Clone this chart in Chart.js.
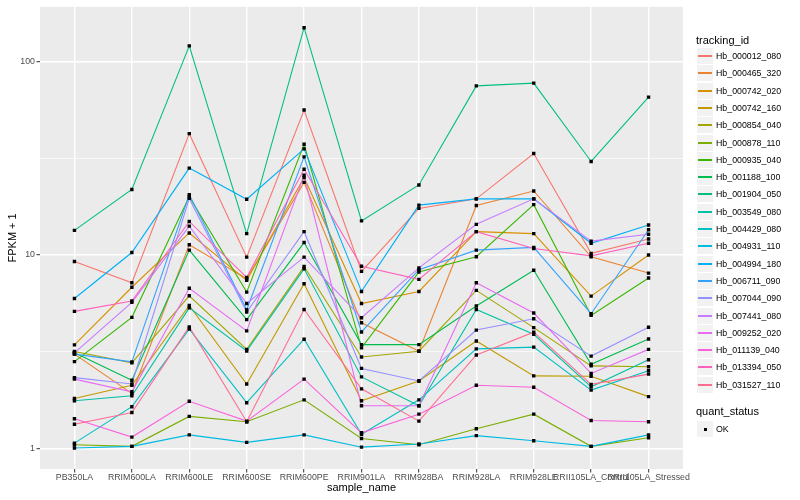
<!DOCTYPE html>
<html>
<head>
<meta charset="utf-8">
<script src="https://cdn.jsdelivr.net/npm/chart.js@4.4.0/dist/chart.umd.min.js"></script>
<style>
  body { margin: 0; background: #fff; }
  #wrap { position: relative; width: 800px; height: 500px; font-family: "Liberation Sans", Arial, sans-serif; }
  #plot { position: absolute; left: 0; top: 0; }
  .lg-title { position: absolute; left: 696px; font-size: 11px; line-height: 13px; color: #000; }
  .lg-row { position: absolute; left: 697px; height: 17px; }
  .lg-key { position: absolute; left: 0; top: 0; width: 16px; height: 16px; background: #F2F2F2; }
  .lg-line { position: absolute; left: 1px; top: 7px; width: 14px; height: 2px; }
  .lg-dot { position: absolute; left: 7px; top: 7px; width: 3px; height: 3px; background: #000; }
  .lg-text { position: absolute; left: 19px; top: 0; font-size: 8.8px; line-height: 17px; color: #000; white-space: nowrap; }
</style>
</head>
<body>
<div id="wrap">
  <canvas id="plot" width="800" height="500"></canvas>
  <div id="legend"></div>
</div>
<script>
// ======= data =======
var categories = ['PB350LA', 'RRIM600LA', 'RRIM600LE', 'RRIM600SE', 'RRIM600PE', 'RRIM901LA',
    'RRIM928BA', 'RRIM928LA', 'RRIM928LE', 'RRII105LA_Control', 'RRII105LA_Stressed'];

var trackingIds = ['Hb_000012_080', 'Hb_000465_320', 'Hb_000742_020', 'Hb_000742_160', 'Hb_000854_040',
    'Hb_000878_110', 'Hb_000935_040', 'Hb_001188_100', 'Hb_001904_050', 'Hb_003549_080',
    'Hb_004429_080', 'Hb_004931_110', 'Hb_004994_180', 'Hb_006711_090', 'Hb_007044_090',
    'Hb_007441_080', 'Hb_009252_020', 'Hb_011139_040', 'Hb_013394_050', 'Hb_031527_110'];

var hb_000012_080 = [9.26, 7.19, 42.3, 9.75, 56, 8.24, 17.4, 19.5, 33.4, 10.2, 12.1];
var hb_000465_320 = [3.08, 1.93, 11.3, 7.54, 23.7, 4.47, 3.19, 18.0, 21.4, 9.8, 8.07];
var hb_000742_020 = [3.44, 6.82, 13.0, 7.4, 25.1, 5.62, 6.49, 13.2, 12.9, 6.14, 10.0];
var hb_000742_160 = [1.82, 2.13, 5.5, 2.16, 7.11, 1.77, 2.24, 3.6, 2.38, 2.37, 1.86];
var hb_000854_040 = [3.18, 2.78, 6.16, 3.26, 8.72, 2.98, 3.19, 6.57, 4.22, 2.68, 2.65];
var hb_000878_110 = [1.05, 1.03, 1.47, 1.38, 1.79, 1.13, 1.05, 1.27, 1.51, 1.03, 1.14];
var hb_000935_040 = [2.82, 4.77, 20.0, 6.44, 37.3, 3.32, 8.17, 9.8, 18.2, 4.88, 7.61];
var hb_001188_100 = [3.13, 2.26, 10.6, 4.64, 11.6, 3.45, 3.45, 5.46, 8.34, 2.73, 3.69];
var hb_001904_050 = [13.4, 21.8, 120, 12.9, 149, 15.0, 23.0, 74.6, 77.1, 30.4, 65.3];
var hb_003549_080 = [1.77, 1.88, 5.34, 3.20, 8.49, 2.35, 1.67, 5.24, 3.9, 2.09, 2.88];
var hb_004429_080 = [1.07, 1.65, 4.15, 1.73, 3.68, 1.19, 1.79, 3.28, 3.35, 2.01, 2.53];
var hb_004931_110 = [1.01, 1.03, 1.18, 1.08, 1.18, 1.02, 1.06, 1.17, 1.10, 1.03, 1.18];
var hb_004994_180 = [5.97, 10.3, 28.1, 19.4, 35.3, 6.49, 18.1, 19.5, 19.5, 11.5, 14.3];
var hb_006711_090 = [3.08, 2.81, 20.5, 5.22, 32.1, 4.01, 8.4, 10.6, 10.96, 4.98, 13.5];
var hb_007044_090 = [2.33, 2.16, 19.6, 5.08, 13.2, 2.60, 2.24, 4.1, 4.69, 3.01, 4.24];
var hb_007441_080 = [3.13, 5.70, 14.1, 5.62, 9.75, 4.75, 8.58, 14.4, 19.5, 11.8, 12.8];
var hb_009252_020 = [2.29, 1.97, 6.74, 4.06, 25.8, 1.67, 1.67, 7.19, 5.02, 2.45, 3.26];
var hb_011139_040 = [1.43, 1.15, 1.76, 1.39, 2.29, 1.21, 1.51, 2.13, 2.08, 1.40, 1.38];
var hb_013394_050 = [5.12, 5.79, 14.9, 7.67, 27.7, 8.76, 7.49, 13.2, 10.8, 9.9, 11.5];
var hb_031527_110 = [1.34, 1.54, 4.26, 1.38, 5.24, 2.04, 1.39, 3.05, 4.0, 2.15, 2.43];

var seriesValues = [hb_000012_080, hb_000465_320, hb_000742_020, hb_000742_160, hb_000854_040,
    hb_000878_110, hb_000935_040, hb_001188_100, hb_001904_050, hb_003549_080,
    hb_004429_080, hb_004931_110, hb_004994_180, hb_006711_090, hb_007044_090,
    hb_007441_080, hb_009252_020, hb_011139_040, hb_013394_050, hb_031527_110];

var yTicks = [1, 10, 100];
var yMinorTicks = [3.1623, 31.623];
var statusLabels = ['OK'];

// ggplot hue palette, 20 levels
var colors = ['#F8766D', '#EA8331', '#D89000', '#C09B00', '#A3A500', '#7CAE00', '#39B600', '#00BB4E',
    '#00BF7D', '#00C1A3', '#00BFC4', '#00BAE0', '#00B0F6', '#35A2FF', '#9590FF', '#C77CFF',
    '#E76BF3', '#FA62DB', '#FF62BC', '#FF6C91'];

/* ======= datasets ======= */
var n = seriesValues.length;
var datasets = [];
seriesValues.forEach(function (vals, i) {
    datasets.push({
        label: trackingIds[i],
        data: vals.map(function (v, j) { return { x: j, y: v }; }),
        borderColor: colors[i],
        borderWidth: 1.1,
        pointRadius: 0,
        tension: 0,
        order: n - i + 1
    });
});
// points on top of all lines
seriesValues.forEach(function (vals, i) {
    datasets.push({
        label: trackingIds[i] + ' pts',
        data: vals.map(function (v, j) { return { x: j, y: v }; }),
        showLine: false,
        pointStyle: 'rect',
        pointRadius: 2.4,
        pointBackgroundColor: '#000',
        pointBorderWidth: 0,
        order: 0
    });
});

var panelBg = {
    id: 'panelBg',
    beforeDraw: function (chart) {
        var a = chart.chartArea, ctx = chart.ctx;
        ctx.save();
        ctx.fillStyle = '#EBEBEB';
        ctx.fillRect(a.left, a.top, a.right - a.left, a.bottom - a.top);
        ctx.restore();
    }
};

function isMajor(v) { return yTicks.indexOf(v) >= 0; }

var chart = new Chart(document.getElementById('plot'), {
    type: 'line',
    data: { datasets: datasets },
    plugins: [panelBg],
    options: {
        responsive: false,
        animation: false,
        events: [],
        layout: { padding: { top: 5, right: 117, left: 0, bottom: 0 } },
        plugins: { legend: { display: false }, tooltip: { enabled: false } },
        scales: {
            x: {
                type: 'linear',
                bounds: 'data',
                min: -0.6,
                max: categories.length - 1 + 0.6,
                afterBuildTicks: function (s) { s.ticks = categories.map(function (c, i) { return { value: i }; }); },
                afterFit: function (s) { s.height = 31; },
                border: { display: false },
                grid: { color: '#FFFFFF', lineWidth: 1.4, tickLength: 3.5, tickColor: '#333333', tickWidth: 1 },
                ticks: {
                    autoSkip: false, maxRotation: 0, minRotation: 0, padding: 0,
                    color: '#4D4D4D', font: { family: 'Liberation Sans', size: 8.8 },
                    callback: function (v) { return categories[v] !== undefined ? categories[v] : ''; }
                },
                title: { display: true, text: 'sample_name', color: '#000', font: { family: 'Liberation Sans', size: 11 }, padding: { top: 0, bottom: 5 } }
            },
            y: {
                type: 'logarithmic',
                bounds: 'data',
                min: 0.787,
                max: 191,
                afterBuildTicks: function (s) {
                    s.ticks = yTicks.concat(yMinorTicks).sort(function (a, b) { return a - b; })
                        .map(function (v) { return { value: v }; });
                },
                afterFit: function (s) { s.width = 40; },
                border: { display: false },
                grid: {
                    color: '#FFFFFF',
                    lineWidth: function (c) { return c.tick && isMajor(c.tick.value) ? 1.4 : 0.7; },
                    tickLength: 3.5,
                    tickColor: function (c) { return c.tick && isMajor(c.tick.value) ? '#333333' : 'rgba(0,0,0,0)'; },
                    tickWidth: 1
                },
                ticks: {
                    padding: 1.5, color: '#4D4D4D', font: { family: 'Liberation Sans', size: 8.8 },
                    callback: function (v) { return isMajor(v) ? String(v) : ''; }
                },
                title: { display: true, text: 'FPKM + 1', color: '#000', font: { family: 'Liberation Sans', size: 11 }, padding: { top: 6, bottom: 0 } }
            }
        }
    }
});

/* ======= legend (ggplot style) ======= */
var lg = document.getElementById('legend');
function add(html) { lg.insertAdjacentHTML('beforeend', html); }
add('<div class="lg-title" style="top:34px">tracking_id</div>');
trackingIds.forEach(function (id, i) {
    var top = Math.round(48 + i * 17.3);
    add('<div class="lg-row" style="top:' + top + 'px"><div class="lg-key"><div class="lg-line" style="background-color:' +
        colors[i] + '"></div></div><div class="lg-text">' + id + '</div></div>');
});
add('<div class="lg-title" style="top:405px">quant_status</div>');
statusLabels.forEach(function (s, i) {
    add('<div class="lg-row" style="top:' + (421 + i * 17) + 'px"><div class="lg-key"><div class="lg-dot"></div></div><div class="lg-text">' + s + '</div></div>');
});
</script>
</body>
</html>
